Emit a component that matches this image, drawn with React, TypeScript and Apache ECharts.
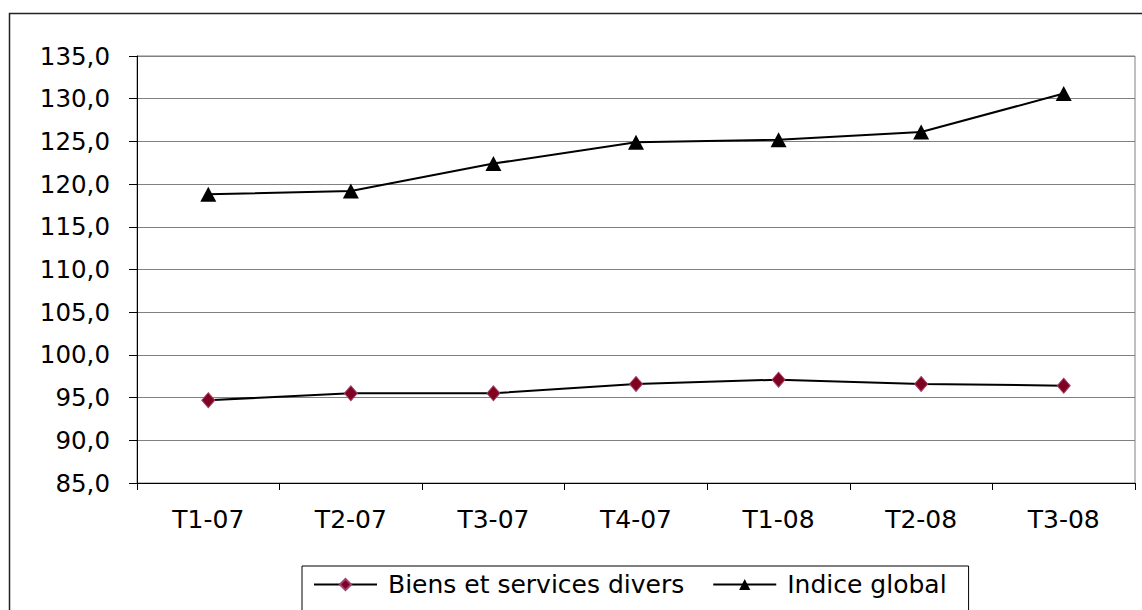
import React, { useEffect, useRef } from "react";
import * as echarts from "echarts";

const categories = ["T1-07", "T2-07", "T3-07", "T4-07", "T1-08", "T2-08", "T3-08"];
const biensValues = [94.7, 95.5, 95.5, 96.6, 97.1, 96.6, 96.4];
const globalValues = [118.8, 119.2, 122.4, 124.9, 125.2, 126.1, 130.6];
const seriesNames = ["Biens et services divers", "Indice global"];

const FONT = "'DejaVu Sans', Verdana, sans-serif";

export default function App() {
  const ref = useRef<HTMLDivElement>(null);
  useEffect(() => {
    if (!ref.current) return;
    const chart = echarts.init(ref.current, null, { renderer: "svg" });
    chart.setOption({
      animation: false,
      backgroundColor: "#ffffff",
      textStyle: { fontFamily: FONT },
      graphic: [
        {
          type: "rect",
          shape: { x: 9.5, y: 13.5, width: 1150, height: 650 },
          style: { fill: "none", stroke: "#222", lineWidth: 1.5 },
          z: -1,
        },
      ],
      grid: {
        left: 137,
        top: 56,
        right: 7,
        bottom: 127,
        show: true,
        borderColor: "#808080",
        borderWidth: 1,
        backgroundColor: "transparent",
      },
      legend: {
        left: 302,
        top: 566,
        padding: [6, 22, 20, 11],
        borderColor: "#000",
        borderWidth: 1,
        itemWidth: 63,
        itemHeight: 14,
        itemGap: 28,
        data: seriesNames,
        textStyle: { fontFamily: FONT, fontSize: 25, color: "#000", padding: [0, 0, 0, 6] },
      },
      xAxis: {
        type: "category",
        data: categories,
        boundaryGap: true,
        axisLine: { lineStyle: { color: "#000", width: 1 } },
        axisTick: { show: true, length: 7, lineStyle: { color: "#000" } },
        axisLabel: { fontFamily: FONT, fontSize: 25, color: "#000", margin: 24 },
        splitLine: { show: false },
      },
      yAxis: {
        type: "value",
        min: 85,
        max: 135,
        interval: 5,
        axisLine: { show: true, lineStyle: { color: "#000", width: 1 } },
        axisTick: { show: true, length: 8, lineStyle: { color: "#000" } },
        axisLabel: {
          fontFamily: FONT,
          fontSize: 24.5,
          color: "#000",
          margin: 27,
          formatter: (v: number) => v.toFixed(1).replace(".", ","),
        },
        splitLine: { show: true, lineStyle: { color: "#808080", width: 1.2 } },
      },
      series: [
        {
          name: seriesNames[0],
          type: "line",
          data: biensValues,
          symbol: "diamond",
          symbolSize: [13, 15],
          lineStyle: { color: "#000", width: 2 },
          itemStyle: { color: "#800020", borderColor: "#a0406a", borderWidth: 1 },
        },
        {
          name: seriesNames[1],
          type: "line",
          data: globalValues,
          symbol: "triangle",
          symbolSize: [16, 15],
          lineStyle: { color: "#000", width: 2 },
          itemStyle: { color: "#000", borderColor: "#000", borderWidth: 0 },
        },
      ],
    });
    return () => chart.dispose();
  }, []);
  return (
    <div
      ref={ref}
      style={{ position: "fixed", left: 0, top: 0, width: 1142, height: 610 }}
    />
  );
}
